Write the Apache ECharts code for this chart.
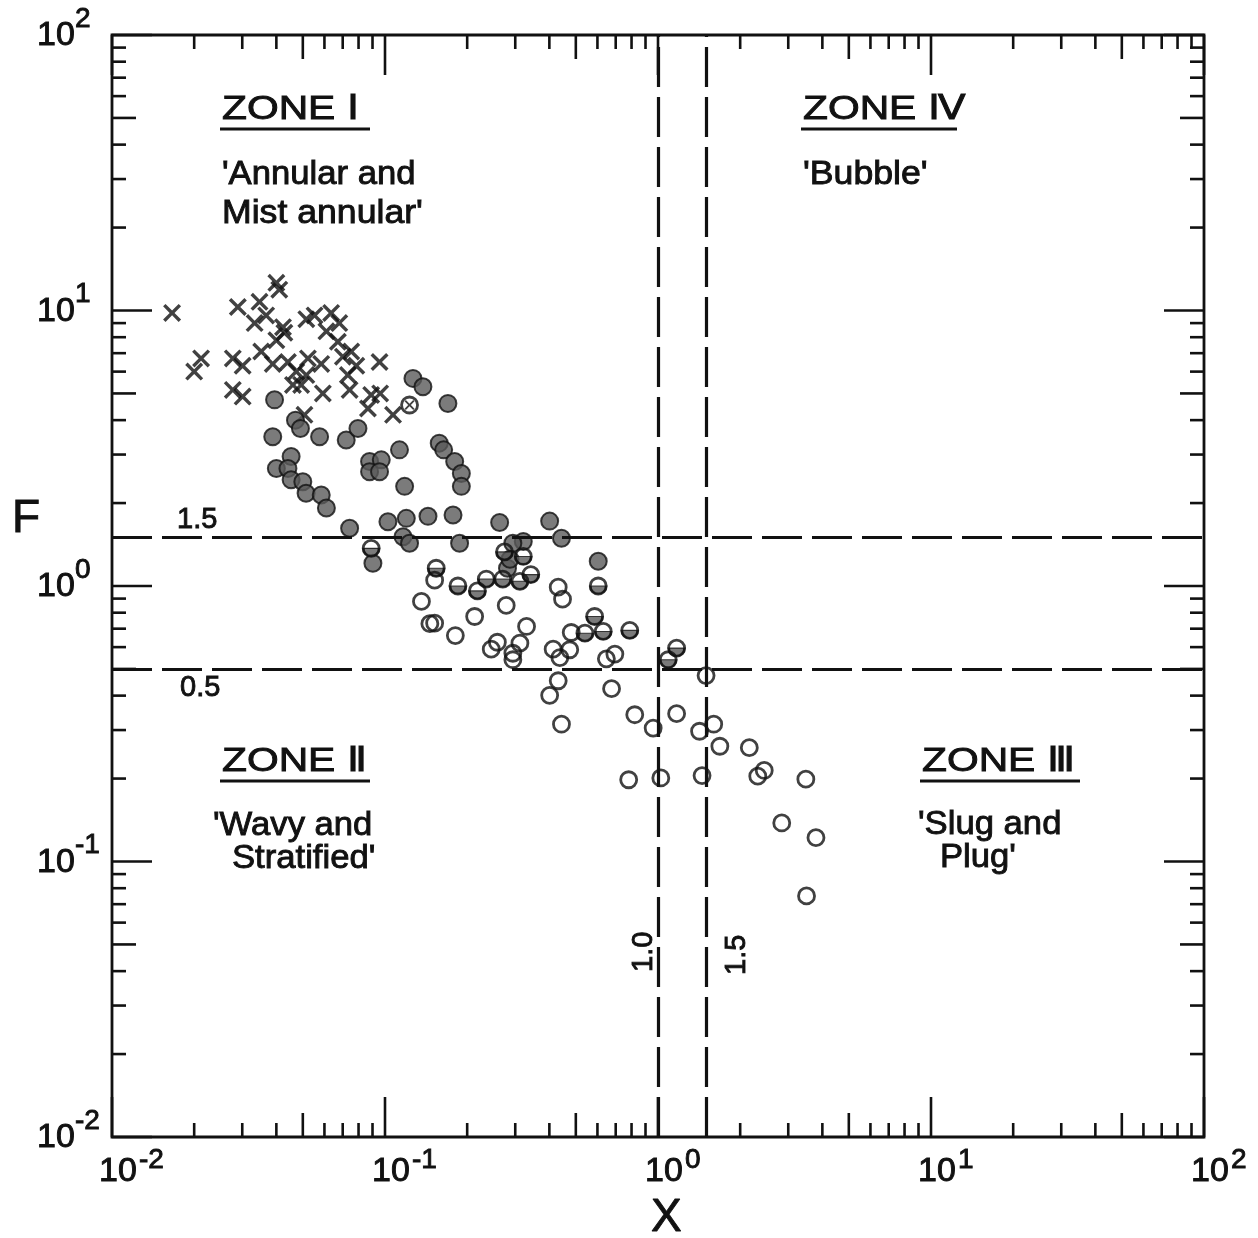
<!DOCTYPE html>
<html><head><meta charset="utf-8">
<script src="https://cdn.jsdelivr.net/npm/echarts@6/dist/echarts.min.js"></script>
<style>html,body{margin:0;padding:0;background:#fff}#c{width:1258px;height:1238px}</style>
</head><body><div id="c"></div>
<script>
// ---- data: [X, F] ----
const crossPts = [
 [0.0166,9.8],[0.0200,6.0],[0.0212,6.7],[0.0277,6.7],[0.0301,6.3],[0.0277,5.15],[0.0301,4.87],
 [0.0289,10.3],[0.0347,10.75],[0.0333,9.0],[0.0367,9.6],[0.040,12.6],[0.041,11.9],[0.0423,8.7],
 [0.0428,8.3],[0.040,7.8],[0.0352,7.1],[0.0388,6.4],[0.0441,6.5],[0.0473,6.0],[0.0460,5.37],
 [0.0493,5.37],[0.0522,6.7],[0.0515,5.83],[0.0584,6.4],[0.0592,5.0],[0.0552,9.6],[0.0515,9.3],
 [0.0635,9.8],[0.068,9.0],[0.061,8.4],[0.0672,7.7],[0.0701,6.8],[0.0752,7.1],[0.0785,6.3],
 [0.0731,5.83],[0.0742,5.15],[0.089,4.94],[0.096,5.0],[0.0955,6.5],[0.0866,4.41],[0.107,4.18],
 [0.0507,4.18]
];
const filledPts = [
 [0.0394,4.74],[0.047,4.0],[0.049,3.73],[0.0388,3.48],[0.0576,3.48],[0.0721,3.39],[0.0796,3.73],
 [0.1266,5.67],[0.1377,5.29],[0.170,4.6],[0.113,3.12],[0.0878,2.83],[0.0969,2.87],[0.0878,2.60],
 [0.0955,2.60],[0.118,2.30],[0.158,3.30],[0.164,3.12],[0.180,2.83],[0.1904,2.56],[0.1904,2.30],
 [0.1025,1.71],[0.1197,1.76],[0.1437,1.79],[0.1775,1.81],[0.0742,1.62],[0.1164,1.51],[0.123,1.43],
 [0.1876,1.43],[0.0453,2.95],[0.040,2.67],[0.0441,2.67],[0.0453,2.43],[0.050,2.39],[0.0514,2.17],
 [0.0584,2.14],[0.061,1.92],[0.263,1.70],[0.401,1.72],[0.443,1.49],[0.321,1.45],[0.294,1.43],
 [0.604,1.23],[0.281,1.16],[0.287,1.25],[0.0903,1.21]
];
const halfPts = [
 [0.089,1.37],[0.154,1.16],[0.185,1.0],[0.218,0.96],[0.235,1.06],[0.270,1.06],[0.312,1.04],
 [0.342,1.10],[0.274,1.33],[0.321,1.28],[0.604,1.0],[0.586,0.775],[0.540,0.674],[0.630,0.684],
 [0.788,0.69],[1.17,0.595],[1.09,0.540]
];
const openPts = [
 [0.152,1.05],[0.136,0.879],[0.152,0.733],[0.146,0.73],[0.213,0.775],[0.278,0.85],[0.181,0.661],
 [0.33,0.713],[0.245,0.59],[0.258,0.625],[0.312,0.62],[0.294,0.57],[0.294,0.54],[0.431,0.99],
 [0.447,0.896],[0.481,0.678],[0.413,0.59],[0.475,0.587],[0.437,0.55],[0.695,0.566],[0.647,0.544],
 [0.431,0.453],[0.401,0.401],[0.676,0.424],[0.443,0.315],[0.822,0.341],[0.96,0.305],[1.17,0.344],
 [1.50,0.473],[1.42,0.297],[1.60,0.315],[1.685,0.262],[2.16,0.259],[0.781,0.198],[1.024,0.201],
 [1.45,0.205],[2.32,0.204],[2.45,0.214],[3.48,0.199],[2.84,0.138],[3.79,0.122],[3.5,0.075]
];
const circledCrossPts = [[0.123,4.54]];

// zone boundaries
const zoneXLines = [1.0, 1.5];
const zoneFLines = [1.5, 0.5];
const zoneXLabels = ['1.0', '1.5'];
const zoneFLabels = ['1.5', '0.5'];

// axis ticks / labels
const decadeExps = [-2, -1, 0, 1, 2];
const minorMults = [2, 3, 4, 5, 6, 7, 8, 9];
const tickBase = '10';
const tickExpLabels = ['-2', '-1', '0', '1', '2'];

const FONT = '"Liberation Sans", Arial, sans-serif';
const INK = '#111';
const TSTROKE = 0.9;

const tickData = [];
decadeExps.forEach((e, i) => {
  tickData.push([Math.pow(10, e), 0, i]);
  if (e < 2) minorMults.forEach(m => tickData.push([+(m * Math.pow(10, e)).toPrecision(6), m === 5 ? 1 : 2, -1]));
});

function tickLen(k) { return k === 0 ? 40 : (k === 1 ? 24 : 14); }
function tstyle(text, size) {
  return {text: text, font: size + 'px ' + FONT, fill: INK, stroke: INK, lineWidth: TSTROKE, align: 'left', verticalAlign: 'middle'};
}

function xTickRender(params, api) {
  const cs = params.coordSys;
  const v = api.value(0), k = api.value(2), li = api.value(3);
  const px = api.coord([v, 1])[0];
  const b = cs.y + cs.height, t = cs.y, L = tickLen(k);
  const ch = [
    {type: 'line', shape: {x1: px, y1: b, x2: px, y2: b - L}, style: {stroke: INK, lineWidth: 2.6}},
    {type: 'line', shape: {x1: px, y1: t, x2: px, y2: t + L}, style: {stroke: INK, lineWidth: 2.6}}
  ];
  if (k === 0) {
    ch.push({type: 'text', x: px - 13, y: b + 35, style: tstyle(tickBase, 34)});
    ch.push({type: 'text', x: px + 27, y: b + 23, style: tstyle(tickExpLabels[li], 28)});
  }
  return {type: 'group', children: ch};
}
function yTickRender(params, api) {
  const cs = params.coordSys;
  const v = api.value(1), k = api.value(2), li = api.value(3);
  const py = api.coord([1, v])[1];
  const l = cs.x, r = cs.x + cs.width, L = tickLen(k);
  const ch = [
    {type: 'line', shape: {x1: l, y1: py, x2: l + L, y2: py}, style: {stroke: INK, lineWidth: 2.6}},
    {type: 'line', shape: {x1: r, y1: py, x2: r - L, y2: py}, style: {stroke: INK, lineWidth: 2.6}}
  ];
  if (k === 0) {
    ch.push({type: 'text', x: 37, y: py + 1, style: tstyle(tickBase, 34)});
    ch.push({type: 'text', x: 75, y: py - 16, style: tstyle(tickExpLabels[li], 28)});
  }
  return {type: 'group', children: ch};
}

const crossPath = 'path://M0,2.7L2.7,0L10,7.3L17.3,0L20,2.7L12.7,10L20,17.3L17.3,20L10,12.7L2.7,20L0,17.3L7.3,10Z';
const semiPath = 'path://M0,0L20,0C20,13.33,0,13.33,0,0Z';
const GRAY = '#5a5a5a';
const CS = 16;

function txt(x, y, s, size, sx, extra) {
  return Object.assign({type: 'text', x: x, y: y, scaleX: sx || 1, silent: true, style: tstyle(s, size)}, extra || {});
}
function uline(x1, x2, y) {
  return {type: 'line', silent: true, shape: {x1: x1, y1: y, x2: x2, y2: y}, style: {stroke: INK, lineWidth: 2.8}};
}

const option = {
  animation: false,
  backgroundColor: '#fff',
  grid: {left: 112, right: 54, top: 35, bottom: 101, show: true, borderColor: INK, borderWidth: 2.8, backgroundColor: 'transparent'},
  xAxis: {type: 'log', logBase: 10, min: 0.01, max: 100, axisLine: {show: false}, axisTick: {show: false}, axisLabel: {show: false}, splitLine: {show: false}},
  yAxis: {type: 'log', logBase: 10, min: 0.01, max: 100, axisLine: {show: false}, axisTick: {show: false}, axisLabel: {show: false}, splitLine: {show: false}},
  series: [
    {type: 'custom', silent: true, renderItem: xTickRender, data: tickData.map(t => [t[0], 1, t[1], t[2]]), encode: {x: 0, y: 1}, z: 5},
    {type: 'custom', silent: true, renderItem: yTickRender, data: tickData.map(t => [1, t[0], t[1], t[2]]), encode: {x: 0, y: 1}, z: 5},
    {type: 'scatter', silent: true, data: crossPts, symbol: crossPath, symbolSize: 18, itemStyle: {color: INK}, z: 3,
     markLine: {silent: true, symbol: ['none', 'none'], label: {show: false}, animation: false,
       lineStyle: {color: INK, width: 3.2, type: [40, 10]},
       data: zoneXLines.map(v => ({xAxis: v})).concat(zoneFLines.map(v => ({yAxis: v})))}},
    {type: 'scatter', silent: true, data: filledPts, symbol: 'circle', symbolSize: CS + 1, itemStyle: {color: GRAY, borderColor: INK, borderWidth: 2}, z: 3},
    {type: 'scatter', silent: true, data: halfPts, symbol: semiPath, symbolSize: [CS, CS / 2], symbolOffset: [0, CS / 4], itemStyle: {color: GRAY, borderColor: INK, borderWidth: 1.6}, z: 3},
    {type: 'scatter', silent: true, data: halfPts, symbol: 'circle', symbolSize: CS, itemStyle: {color: 'rgba(0,0,0,0)', borderColor: INK, borderWidth: 2.8}, z: 4},
    {type: 'scatter', silent: true, data: openPts, symbol: 'circle', symbolSize: CS, itemStyle: {color: 'rgba(0,0,0,0)', borderColor: INK, borderWidth: 2.8}, z: 4},
    {type: 'scatter', silent: true, data: circledCrossPts, symbol: 'circle', symbolSize: CS, itemStyle: {color: '#fff', borderColor: INK, borderWidth: 2.8}, z: 4},
    {type: 'scatter', silent: true, data: circledCrossPts, symbol: crossPath, symbolSize: 10, itemStyle: {color: INK}, z: 4}
  ],
  graphic: [
    txt(12, 519, 'F', 46),
    txt(651, 1218, 'X', 46),
    txt(222, 110, 'ZONE Ⅰ', 34, 1.2), uline(220, 370, 129),
    txt(222, 175, '\'Annular and', 33, 1.05),
    txt(222, 214, 'Mist annular\'', 33, 1.08),
    txt(803, 110, 'ZONE Ⅳ', 34, 1.2), uline(801, 957, 129),
    txt(803, 175, '\'Bubble\'', 33, 1.08),
    txt(222, 762, 'ZONE Ⅱ', 34, 1.2), uline(220, 370, 781),
    txt(213, 826, '\'Wavy and', 33, 1.05),
    txt(232, 859, 'Stratified\'', 33, 1.05),
    txt(922, 762, 'ZONE Ⅲ', 34, 1.2), uline(920, 1080, 781),
    txt(918, 825, '\'Slug and', 33, 1.05),
    txt(940, 858, 'Plug\'', 33, 1.05),
    txt(177, 520, zoneFLabels[0], 29),
    txt(180, 688, zoneFLabels[1], 29),
    txt(644, 972, zoneXLabels[0], 29, 1, {rotation: Math.PI / 2}),
    txt(737, 975, zoneXLabels[1], 29, 1, {rotation: Math.PI / 2})
  ]
};
const chart = echarts.init(document.getElementById('c'));
chart.setOption(option);
</script>
</body></html>
